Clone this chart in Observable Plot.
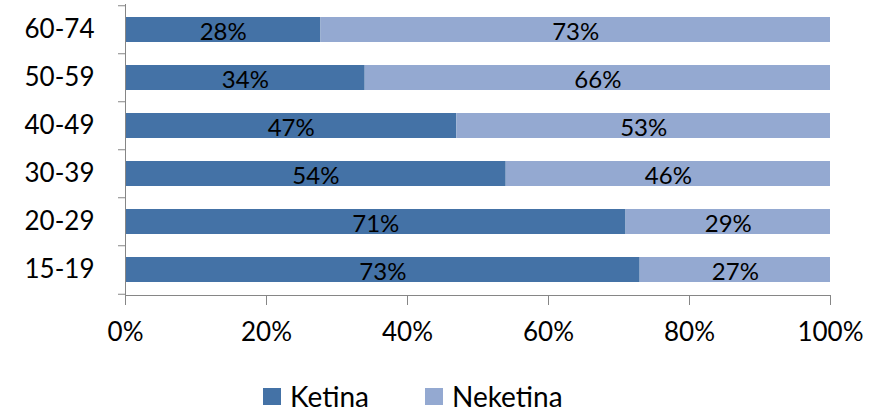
<!DOCTYPE html>
<html><head><meta charset="utf-8">
<script src="https://cdn.jsdelivr.net/npm/d3@7"></script>
<script src="https://cdn.jsdelivr.net/npm/@observablehq/plot@0.6"></script>
<style>
body{margin:0;background:#fff;font-family:Lato,sans-serif;}
#legend{display:flex;align-items:center;height:30px;padding-top:1px;margin-left:263px;font-size:28px;color:#000;line-height:1}
.item{display:flex;align-items:center}
.item + .item{margin-left:56px}
.sw{width:18px;height:17px;margin-right:9px}
</style></head><body><div id="chart"></div><div id="legend"></div>
<script>
const ageGroups = ["60-74","50-59","40-49","30-39","20-29","15-19"];
const ketina = [28,34,47,54,71,73];
const neketina = [73,66,53,46,29,27];
const seriesNames = ["Ketina","Neketina"];
const seriesColors = ["#4472A6","#94A9D1"];
const xTicks = [0,0.2,0.4,0.6,0.8,1];

const rows = [];
ageGroups.forEach((a,i)=>{
  rows.push({age:a, series:seriesNames[0], value:ketina[i]});
  rows.push({age:a, series:seriesNames[1], value:neketina[i]});
});
const fmt = d3.format(".0%");
const half = 24.25;

const chart = Plot.plot({
  width:883, height:380,
  marginLeft:125, marginRight:53, marginTop:4, marginBottom:85,
  style:{fontFamily:"Lato, sans-serif", fontSize:"26px", color:"#000", background:"transparent"},
  x:{domain:[0,1], axis:null},
  y:{domain:ageGroups, paddingInner:0.485, paddingOuter:0.2425, axis:null},
  color:{domain:seriesNames, range:seriesColors},
  marks:[
    Plot.barX(rows, Plot.stackX({x:"value", y:"age", z:"series", fill:"series", offset:"normalize"})),
    Plot.text(rows, Plot.stackX({x:"value", y:"age", z:"series", offset:"normalize", text:d=>d.value+"%", fontSize:24, fill:"#000", dy:2})),
    Plot.frame({anchor:"left", stroke:"#868686"}),
    Plot.frame({anchor:"bottom", stroke:"#868686"}),
    Plot.axisX(xTicks, {tickFormat:fmt, tickSize:10, tickPadding:17, stroke:"#868686", fill:"#000", fontSize:26, label:null}),
    Plot.axisY({tickSize:0, tickPadding:31, fill:"#000", fontSize:26, label:null}),
    Plot.axisY({tickSize:7, text:null, stroke:"#868686", dy:-half, label:null}),
    Plot.axisY(["15-19"], {tickSize:7, text:null, stroke:"#868686", dy:half, label:null})
  ]
});
document.getElementById("chart").appendChild(chart);

const legend = document.getElementById("legend");
seriesNames.forEach((s,i)=>{
  const it = document.createElement("div"); it.className="item";
  const sw = document.createElement("div"); sw.className="sw"; sw.style.background=seriesColors[i];
  const t = document.createElement("span"); t.textContent=s;
  it.appendChild(sw); it.appendChild(t); legend.appendChild(it);
});
</script></body></html>
